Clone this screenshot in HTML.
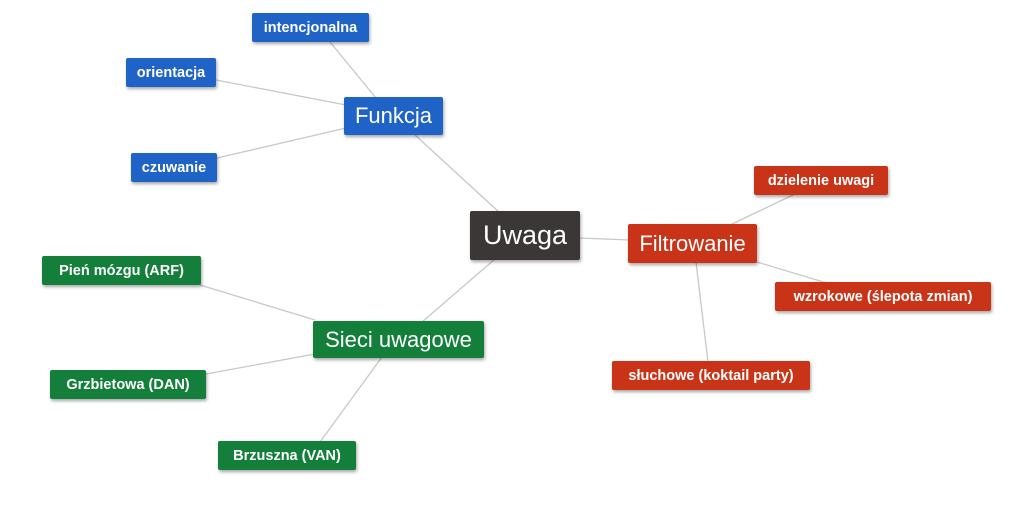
<!DOCTYPE html>
<html><head><meta charset="utf-8"><style>
body{margin:0;width:1020px;height:508px;background:#fff;position:relative;overflow:hidden;font-family:"Liberation Sans",Arial,sans-serif}
.n{position:absolute;color:#fff;display:flex;align-items:center;justify-content:center;box-shadow:1px 2px 3px rgba(0,0,0,.35);border-radius:2px;white-space:nowrap}
.b{background:#1f63c6}.g{background:#137f3b}.r{background:#c93317}.k{background:#3b3737}
.s{font-size:14.5px;font-weight:bold}.m{font-size:22px}
svg{position:absolute;left:0;top:0}
</style></head><body>
<svg width="1020" height="508"><g stroke="#c8c8c8" stroke-width="1.3" fill="none">
<line x1="500" y1="213" x2="415" y2="135"/>
<line x1="580" y1="238" x2="630" y2="240"/>
<line x1="495" y1="259" x2="422" y2="322"/>
<line x1="330" y1="42" x2="376" y2="98"/>
<line x1="216" y1="80" x2="346" y2="105"/>
<line x1="217" y1="158" x2="346" y2="128"/>
<line x1="730" y1="225" x2="795" y2="194"/>
<line x1="757" y1="262" x2="830" y2="284"/>
<line x1="696" y1="262" x2="708" y2="362"/>
<line x1="200" y1="285" x2="315" y2="320"/>
<line x1="206" y1="374" x2="315" y2="354"/>
<line x1="320" y1="442" x2="382" y2="357"/>
</g></svg>
<div class="n b s" style="left:252px;top:13px;width:117px;height:29px">intencjonalna</div>
<div class="n b s" style="left:126px;top:58px;width:90px;height:29px">orientacja</div>
<div class="n b m" style="left:344px;top:97px;width:99px;height:38px">Funkcja</div>
<div class="n b s" style="left:131px;top:153px;width:86px;height:29px">czuwanie</div>
<div class="n k" style="left:470px;top:211px;width:110px;height:49px;font-size:27px">Uwaga</div>
<div class="n r s" style="left:754px;top:166px;width:134px;height:29px">dzielenie uwagi</div>
<div class="n r m" style="left:628px;top:224px;width:129px;height:39px">Filtrowanie</div>
<div class="n r s" style="left:775px;top:282px;width:216px;height:29px">wzrokowe (ślepota zmian)</div>
<div class="n r s" style="left:612px;top:361px;width:198px;height:29px">słuchowe (koktail party)</div>
<div class="n g s" style="left:42px;top:256px;width:159px;height:29px">Pień mózgu (ARF)</div>
<div class="n g m" style="left:313px;top:321px;width:171px;height:37px">Sieci uwagowe</div>
<div class="n g s" style="left:50px;top:370px;width:156px;height:29px">Grzbietowa (DAN)</div>
<div class="n g s" style="left:218px;top:441px;width:138px;height:29px">Brzuszna (VAN)</div>
</body></html>
